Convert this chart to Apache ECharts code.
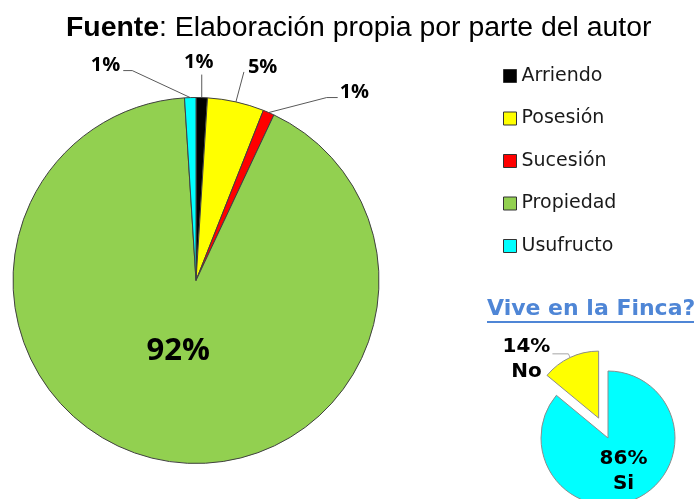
<!DOCTYPE html>
<html>
<head>
<meta charset="utf-8">
<script src="https://cdn.jsdelivr.net/npm/echarts@6/dist/echarts.min.js"></script>
<style>
  html, body { margin: 0; padding: 0; background: #fff; }
  #main { width: 699px; height: 499px; }
</style>
</head>
<body>
<div id="main"></div>
<script>
const tenencia = ['Arriendo', 'Posesión', 'Sucesión', 'Propiedad', 'Usufructo']
const tenenciaPct = [1, 5, 1, 92, 1]
const tenenciaColor = ['#000000', '#ffff00', '#ff0000', '#92d050', '#00ffff']

const viveFinca = ['Si', 'No']
const vivePct = [86, 14]
const viveColor = ['#00ffff', '#ffff00']

// codo y fin de la línea guía, y posición del texto, relativos al borde del sector
const guia = {
  0: { codo: [0, -23], fin: [0, -23], texto: [-3, -35], align: 'center' },
  1: { codo: [8, -30], fin: [8, -30], texto: [12, -35], align: 'left' },
  2: { codo: [58, -15], fin: [69, -15], texto: [71, -20], align: 'left' },
  4: { codo: [-58, -27], fin: [-67, -27], texto: [-70, -32], align: 'right' }
}

const chart = echarts.init(document.getElementById('main'))

const option = {
  animation: false,
  title: [
    {
      text: '{b|Fuente}: Elaboración propia por parte del autor',
      left: 66,
      top: 14,
      padding: 0,
      textStyle: {
        fontFamily: 'Liberation Sans',
        fontSize: 28.4,
        fontWeight: 'normal',
        color: '#000',
        rich: {
          b: { fontFamily: 'Liberation Sans', fontSize: 28.4, fontWeight: 'bold', color: '#000' }
        }
      }
    },
    {
      text: 'Vive en la Finca?',
      left: 487,
      top: 298,
      padding: 0,
      textStyle: {
        fontFamily: 'DejaVu Sans',
        fontSize: 22,
        fontWeight: 'bold',
        color: '#4f86d6'
      }
    }
  ],
  graphic: [
    {
      type: 'line',
      shape: { x1: 487, y1: 322, x2: 694, y2: 322 },
      style: { stroke: '#4f86d6', lineWidth: 2 }
    }
  ],
  legend: {
    data: tenencia,
    orient: 'vertical',
    left: 503,
    top: 66,
    padding: 0,
    itemWidth: 13,
    itemHeight: 13,
    itemGap: 22.5,
    icon: 'rect',
    itemStyle: { borderColor: '#333', borderWidth: 1 },
    textStyle: {
      fontFamily: 'DejaVu Sans',
      fontSize: 19,
      lineHeight: 20,
      color: '#1a1a1a'
    }
  },
  series: [
    {
      name: 'Tenencia',
      type: 'pie',
      center: [196, 280.5],
      radius: 183,
      startAngle: 90,
      clockwise: true,
      avoidLabelOverlap: false,
      itemStyle: { borderColor: '#404040', borderWidth: 1 },
      label: {
        position: 'outside',
        formatter: '{c}%',
        fontFamily: 'Open Sans',
        fontWeight: 'bold',
        fontSize: 20,
        color: '#000'
      },
      labelLine: {
        show: true,
        lineStyle: { color: '#595959', width: 1 }
      },
      labelLayout: function (p) {
        if (p.dataIndex === 3) return { dy: -22 }
        const g = guia[p.dataIndex]
        if (!g || !p.labelLinePoints) return {}
        const e = p.labelLinePoints[0]
        const codo = [e[0] + g.codo[0], e[1] + g.codo[1]]
        const fin = [e[0] + g.fin[0], e[1] + g.fin[1]]
        return {
          x: e[0] + g.texto[0],
          y: e[1] + g.texto[1],
          align: g.align,
          verticalAlign: 'middle',
          labelLinePoints: [e, codo, fin]
        }
      },
      emphasis: { disabled: true },
      data: tenencia.map((n, i) => {
        const item = { name: n, value: tenenciaPct[i], itemStyle: { color: tenenciaColor[i] } }
        if (n === 'Propiedad') {
          item.label = { position: 'inside', fontSize: 31 }
          item.labelLine = { show: false }
        }
        return item
      })
    },
    {
      name: 'Vive en la Finca?',
      type: 'pie',
      center: [608, 438],
      radius: 67,
      startAngle: 90,
      clockwise: true,
      selectedMode: 'single',
      selectedOffset: 22,
      avoidLabelOverlap: false,
      itemStyle: { borderColor: '#8c8c8c', borderWidth: 1 },
      label: {
        formatter: '{t|{c}%}\n{t|{b}}',
        color: '#000',
        rich: {
          t: {
            fontFamily: 'DejaVu Sans',
            fontWeight: 'bold',
            fontSize: 20,
            lineHeight: 25,
            width: 52,
            align: 'center',
            color: '#000'
          }
        }
      },
      labelLine: { length: 4, length2: 16, lineStyle: { color: '#a6a6a6', width: 1 } },
      emphasis: { disabled: true },
      select: { itemStyle: { borderColor: '#8c8c8c', borderWidth: 1 } },
      data: viveFinca.map((n, i) => {
        const item = { name: n, value: vivePct[i], itemStyle: { color: viveColor[i] } }
        if (n === 'Si') {
          item.label = { position: 'inside' }
          item.labelLine = { show: false }
        } else {
          item.label = { position: 'outside', distanceToLabelLine: 0, padding: [10, 0, 0, 0] }
          item.selected = true
        }
        return item
      })
    }
  ]
}

chart.setOption(option)
</script>
</body>
</html>
